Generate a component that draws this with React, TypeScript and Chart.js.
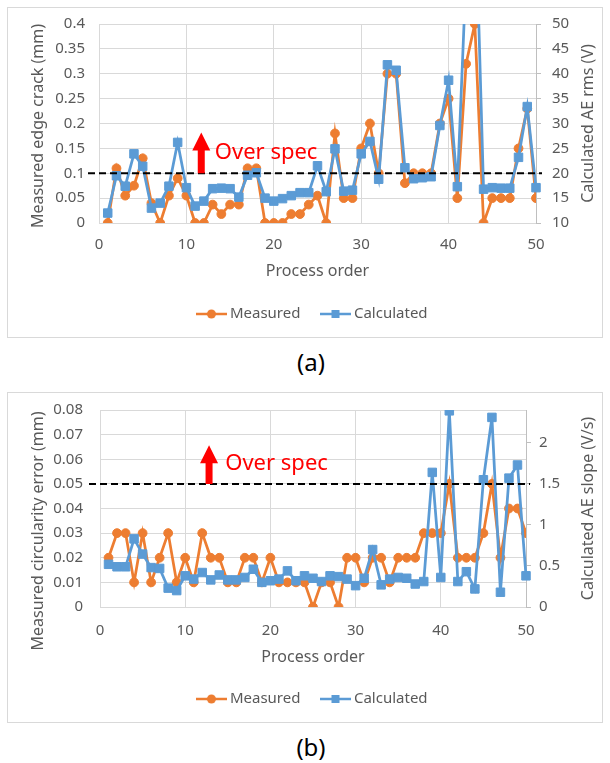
import React, { useEffect, useRef } from "react";
import { Chart, registerables } from "chart.js";

Chart.register(...registerables);

// ---------- data ----------
const processOrder = [
  1, 2, 3, 4, 5, 6, 7, 8, 9, 10, 11, 12, 13, 14, 15, 16, 17, 18, 19, 20, 21, 22, 23, 24, 25,
  26, 27, 28, 29, 30, 31, 32, 33, 34, 35, 36, 37, 38, 39, 40, 41, 42, 43, 44, 45, 46, 47, 48, 49, 50,
];

// (a) measured edge crack (mm), left axis
const measuredEdgeCrack = [
  0, 0.11, 0.055, 0.075, 0.13, 0.04, 0, 0.055, 0.09, 0.055,
  0, 0, 0.037, 0.018, 0.037, 0.037, 0.11, 0.11, 0, 0,
  0, 0.018, 0.018, 0.037, 0.055, 0, 0.18, 0.05, 0.05, 0.15,
  0.2, 0.1, 0.3, 0.3, 0.08, 0.1, 0.1, 0.1, 0.2, 0.25,
  0.05, 0.32, 0.4, 0, 0.05, 0.05, 0.05, 0.15, 0.23, 0.05,
];
// (a) calculated AE rms (V), right axis
const calculatedAeRms = [
  12, 19.5, 17.4, 23.9, 21.4, 13, 14, 17.4, 26.2, 17.1,
  13.4, 14.4, 16.9, 17, 16.9, 15.2, 19.6, 20.1, 15, 14.4,
  14.9, 15.5, 16.1, 16.1, 21.5, 16.3, 24.9, 16.4, 16.6, 23.9,
  26.4, 18.8, 41.8, 40.7, 21.1, 18.9, 19.1, 19.3, 29.6, 38.7,
  17.3, 60, 78, 16.8, 17.1, 17, 17, 23.2, 33.4, 17.1,
];

// (b) measured circularity error (mm), left axis
const measuredCircularity = [
  0.02, 0.03, 0.03, 0.01, 0.03, 0.01, 0.02, 0.03, 0.01, 0.02,
  0.01, 0.03, 0.02, 0.02, 0.01, 0.01, 0.02, 0.02, 0.01, 0.02,
  0.01, 0.01, 0.01, 0.01, 0, 0.01, 0.01, 0, 0.02, 0.02,
  0.01, 0.02, 0.02, 0.01, 0.02, 0.02, 0.02, 0.03, 0.03, 0.03,
  0.05, 0.02, 0.02, 0.02, 0.03, 0.05, 0.02, 0.04, 0.04, 0.03,
];
// (b) calculated AE slope (V/s), right axis
const calculatedAeSlope = [
  0.52, 0.49, 0.49, 0.83, 0.645, 0.48, 0.47, 0.23, 0.2, 0.38,
  0.34, 0.42, 0.33, 0.39, 0.33, 0.33, 0.36, 0.46, 0.3, 0.32,
  0.34, 0.44, 0.32, 0.38, 0.35, 0.31, 0.38, 0.37, 0.34, 0.26,
  0.35, 0.7, 0.27, 0.34, 0.36, 0.35, 0.28, 0.31, 1.64, 0.36,
  2.39, 0.31, 0.43, 0.22, 1.55, 2.31, 0.18, 1.57, 1.73, 0.38,
];

const seriesNames = ["Measured", "Calculated"];
const xAxisTitle = "Process order";
const crackTitles = ["Measured edge crack (mm)", "Calculated AE rms (V)"];
const circTitles = ["Measured circularity error (mm)", "Calculated AE slope (V/s)"];
const annotationText = "Over spec";
const captions = ["(a)", "(b)"];
const crackSpec = 0.1;
const circSpec = 0.05;

// ---------- styles ----------
const FONT = '"Noto Sans", sans-serif';
const TEXT = "#595959";
const GRID = "#d9d9d9";
const AXIS = "#bfbfbf";
const ORANGE = "#ED7D31";
const BLUE = "#5B9BD5";

function legendIcon(color: string, shape: "circle" | "rect") {
  const c = document.createElement("canvas");
  c.width = 31;
  c.height = 12;
  const ctx = c.getContext("2d")!;
  ctx.strokeStyle = color;
  ctx.lineWidth = 2.5;
  ctx.beginPath();
  ctx.moveTo(0, 6);
  ctx.lineTo(31, 6);
  ctx.stroke();
  ctx.fillStyle = color;
  if (shape === "circle") {
    ctx.beginPath();
    ctx.arc(15.5, 6, 4.5, 0, Math.PI * 2);
    ctx.fill();
  } else {
    ctx.fillRect(11.5, 2, 8, 8);
  }
  return c;
}

const fmt = (v: number) => String(Math.round(v * 1000) / 1000);

type PanelCfg = {
  measured: number[];
  calculated: number[];
  yMin: number; yMax: number; yStep: number;
  y2Min: number; y2Max: number; y2Step: number;
  titles: string[];
  spec: number;
  arrowX: number; arrowTip: number; textX: number; textY: number;
  dashLeft: number; dashRight: number;
  padTop: number; xHeight: number; xTickPad: number; xTitlePad: number;
  yWidth: number; yTickPad: number; y2Width: number; y2TickPad: number;
  yTitleCenter: number;
};

function drawVertical(ctx: CanvasRenderingContext2D, text: string, x: number, y: number) {
  ctx.save();
  ctx.translate(x, y);
  ctx.rotate(-Math.PI / 2);
  ctx.font = `16px ${FONT}`;
  ctx.fillStyle = TEXT;
  ctx.textAlign = "center";
  ctx.textBaseline = "middle";
  ctx.fillText(text, 0, 0);
  ctx.restore();
}

function makeChart(canvas: HTMLCanvasElement, p: PanelCfg) {
  const icons = [legendIcon(ORANGE, "circle"), legendIcon(BLUE, "rect")];
  const colors = [ORANGE, BLUE];
  const annotate = {
    id: "annotate",
    afterDatasetsDraw(chart: any) {
      const { ctx, chartArea: a, scales } = chart;
      const xs = scales.x;
      const ys = scales.y;
      const yLine = ys.getPixelForValue(p.spec);
      ctx.save();
      ctx.strokeStyle = "#000";
      ctx.lineWidth = 2;
      ctx.setLineDash([7, 4]);
      ctx.beginPath();
      ctx.moveTo(a.left - p.dashLeft, yLine);
      ctx.lineTo(a.right + p.dashRight, yLine);
      ctx.stroke();
      ctx.setLineDash([]);
      const ax = xs.getPixelForValue(p.arrowX);
      const tip = ys.getPixelForValue(p.arrowTip);
      const headH = 18, headW = 18, shaftW = 7;
      ctx.fillStyle = "#FF0000";
      ctx.beginPath();
      ctx.moveTo(ax, tip);
      ctx.lineTo(ax + headW / 2, tip + headH);
      ctx.lineTo(ax + shaftW / 2, tip + headH);
      ctx.lineTo(ax + shaftW / 2, yLine);
      ctx.lineTo(ax - shaftW / 2, yLine);
      ctx.lineTo(ax - shaftW / 2, tip + headH);
      ctx.lineTo(ax - headW / 2, tip + headH);
      ctx.closePath();
      ctx.fill();
      ctx.font = `22px ${FONT}`;
      ctx.textAlign = "left";
      ctx.textBaseline = "middle";
      ctx.fillText(annotationText, xs.getPixelForValue(p.textX), ys.getPixelForValue(p.textY));
      ctx.restore();
    },
    afterDraw(chart: any) {
      const { ctx, chartArea: a, scales } = chart;
      drawVertical(ctx, p.titles[0], 30, p.yTitleCenter);
      drawVertical(ctx, p.titles[1], scales.y2.right - 14, (a.top + a.bottom) / 2);
    },
  };

  const tickFont = { family: FONT, size: 15 };
  return new Chart(canvas, {
    type: "line",
    data: {
      datasets: [
        {
          label: seriesNames[0],
          data: processOrder.map((x, i) => ({ x, y: p.measured[i] })),
          yAxisID: "y",
          order: 1,
          borderColor: ORANGE,
          backgroundColor: ORANGE,
          borderWidth: 2.75,
          pointStyle: "circle",
          pointRadius: 4.4,
          pointBorderWidth: 1,
          pointBackgroundColor: ORANGE,
          pointBorderColor: ORANGE,
        },
        {
          label: seriesNames[1],
          data: processOrder.map((x, i) => ({ x, y: p.calculated[i] })),
          yAxisID: "y2",
          order: 0,
          borderColor: BLUE,
          backgroundColor: BLUE,
          borderWidth: 2.75,
          pointStyle: "rect",
          pointRadius: 6,
          pointBorderWidth: 1,
          pointBackgroundColor: BLUE,
          pointBorderColor: BLUE,
          clip: { left: 10, right: 10, top: 0, bottom: 10 },
        },
      ],
    },
    options: {
      responsive: false,
      animation: false,
      events: [],
      layout: { padding: { left: 18, right: 0, top: p.padTop, bottom: 5.5 } },
      plugins: {
        tooltip: { enabled: false },
        legend: {
          position: "bottom",
          labels: {
            usePointStyle: true,
            pointStyleWidth: 22,
            padding: 24,
            color: TEXT,
            font: { family: FONT, size: 15 },
            generateLabels: () =>
              seriesNames.map((t, i) => ({
                text: t,
                pointStyle: icons[i],
                fillStyle: colors[i],
                strokeStyle: colors[i],
                lineWidth: 0,
                hidden: false,
                datasetIndex: i,
                fontColor: TEXT,
              })),
          },
        },
      },
      scales: {
        x: {
          type: "linear",
          min: 0,
          max: 50,
          ticks: { stepSize: 10, padding: p.xTickPad, color: TEXT, font: tickFont, maxRotation: 0 },
          grid: { color: GRID, drawTicks: false },
          border: { color: GRID },
          title: {
            display: true,
            text: xAxisTitle,
            color: TEXT,
            font: { family: FONT, size: 16 },
            padding: { top: 0, bottom: p.xTitlePad },
          },
          afterFit: (s: any) => {
            s.height = p.xHeight;
          },
        },
        y: {
          type: "linear",
          position: "left",
          min: p.yMin,
          max: p.yMax,
          ticks: { stepSize: p.yStep, padding: p.yTickPad, color: TEXT, font: tickFont, callback: (v: any) => fmt(Number(v)) },
          grid: { color: GRID, drawTicks: false },
          border: { color: GRID },
          afterFit: (s: any) => {
            s.width = p.yWidth;
            s.paddingTop = 0;
            s.paddingBottom = 0;
          },
        },
        y2: {
          type: "linear",
          position: "right",
          min: p.y2Min,
          max: p.y2Max,
          ticks: {
            stepSize: p.y2Step,
            includeBounds: false,
            padding: p.y2TickPad,
            color: TEXT,
            font: tickFont,
            callback: (v: any) => fmt(Number(v)),
          },
          grid: { drawOnChartArea: false, drawTicks: true, tickLength: 5, color: AXIS },
          border: { color: AXIS },
          afterFit: (s: any) => {
            s.width = p.y2Width;
            s.paddingTop = 0;
            s.paddingBottom = 0;
          },
        },
      },
    } as any,
    plugins: [annotate as any],
  });
}

function Panel({ cfg, top }: { cfg: PanelCfg; top: number }) {
  const ref = useRef<HTMLCanvasElement>(null);
  useEffect(() => {
    const chart = makeChart(ref.current!, cfg);
    return () => chart.destroy();
  }, [cfg]);
  return (
    <div
      style={{
        position: "absolute",
        left: 7,
        top,
        width: 596,
        height: 331,
        border: `1px solid ${GRID}`,
        boxSizing: "border-box",
        background: "#fff",
      }}
    >
      <canvas ref={ref} width={594} height={329} style={{ position: "absolute", left: 0, top: 0 }} />
    </div>
  );
}

const cfgA: PanelCfg = {
  measured: measuredEdgeCrack,
  calculated: calculatedAeRms,
  yMin: 0, yMax: 0.4, yStep: 0.05,
  y2Min: 10, y2Max: 50, y2Step: 5,
  titles: crackTitles,
  spec: crackSpec,
  arrowX: 11.7, arrowTip: 0.182, textX: 13.25, textY: 0.141,
  dashLeft: 11, dashRight: 6,
  padTop: 16, xHeight: 59.5, xTickPad: 13, xTitlePad: 1.9,
  yWidth: 73, yTickPad: 14, y2Width: 66, y2TickPad: 11,
  yTitleCenter: 118,
};

const cfgB: PanelCfg = {
  measured: measuredCircularity,
  calculated: calculatedAeSlope,
  yMin: 0, yMax: 0.08, yStep: 0.01,
  y2Min: 0, y2Max: 2.4, y2Step: 0.5,
  titles: circTitles,
  spec: circSpec,
  arrowX: 12.8, arrowTip: 0.0657, textX: 14.7, textY: 0.058,
  dashLeft: 11, dashRight: 4,
  padTop: 17, xHeight: 60.5, xTickPad: 15, xTitlePad: 0,
  yWidth: 74, yTickPad: 17, y2Width: 76, y2TickPad: 8,
  yTitleCenter: 138,
};

const captionStyle = (top: number): React.CSSProperties => ({
  position: "absolute",
  left: 261,
  width: 100,
  top,
  textAlign: "center",
  fontFamily: FONT,
  fontSize: 24,
  lineHeight: "30px",
  color: "#000",
});

export default function App() {
  return (
    <div>
      <Panel cfg={cfgA} top={7} />
      <div style={captionStyle(347)}>{captions[0]}</div>
      <Panel cfg={cfgB} top={392} />
      <div style={captionStyle(732)}>{captions[1]}</div>
    </div>
  );
}
